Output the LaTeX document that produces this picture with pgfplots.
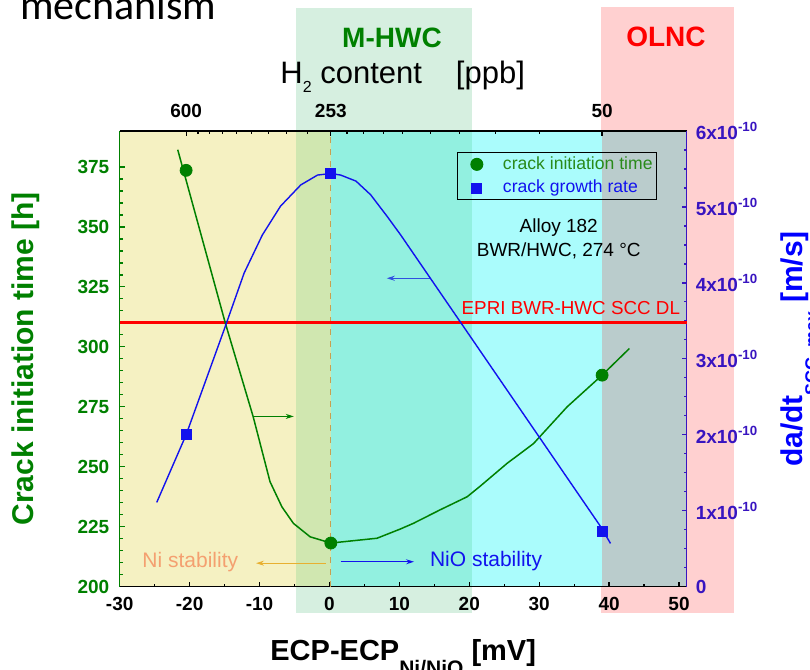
\documentclass[border=0pt]{standalone}
\usepackage{fontspec}
\setmainfont{Liberation Sans}
\newfontfamily\carlito{Carlito}
\usepackage{pgfplots}
\pgfplotsset{compat=1.18}
\usetikzlibrary{arrows.meta}
\pgfplotsset{set layers}

\definecolor{cgreen}{HTML}{008000}
\definecolor{cblue}{HTML}{1212EE}
\definecolor{cindigo}{HTML}{3814C0}
\definecolor{cred}{HTML}{FF0000}
\definecolor{byellow}{HTML}{F5F1C2}
\definecolor{boverlap}{HTML}{D0E7B0}
\definecolor{bteal}{HTML}{92F0E0}
\definecolor{bcyan}{HTML}{AAFCFC}
\definecolor{bgray}{HTML}{BACCCC}
\definecolor{bgreen}{HTML}{D6EFE0}
\definecolor{bpink}{HTML}{FFD0D0}
\definecolor{cdash}{HTML}{C8A050}
\definecolor{cnistab}{HTML}{F4A070}
\definecolor{cniarrow}{HTML}{E8B030}
\definecolor{carrowblue}{HTML}{3050E0}
\definecolor{clegtext}{HTML}{2A8A1A}

\begin{document}
\begin{tikzpicture}

\begin{axis}[
  at={(0,0)}, anchor=south west,
  scale only axis, width=283.5pt, height=227.85pt,
  xmin=-30, xmax=51.1, ymin=200, ymax=390,
  clip=false,
  axis x line*=bottom, axis y line*=left,
  axis line style={-, line width=0.8pt},
  x axis line style={black}, y axis line style={cgreen},
  tick align=inside,
  major tick length=2.5pt, minor tick length=1.5pt,
  xtick={-30,-20,-10,0,10,20,30,40,50},
  xticklabels={-30,-20,-10,0,10,20,30,40,50},
  minor x tick num=1,
  ytick={200,225,250,275,300,325,350,375},
  yticklabels={200,225,250,275,300,325,350,375},
  minor y tick num=4,
  xtick style={black, line width=0.6pt},
  ytick style={cgreen, line width=0.6pt},
  x tick label style={font=\bfseries\fontsize{9.5}{11}\selectfont, black, yshift=-1.85pt},
  y tick label style={font=\bfseries\fontsize{9.5}{11}\selectfont, cgreen, xshift=-1.7pt},
  xlabel={ECP-ECP\raisebox{-7.75pt}{\fontsize{10.5}{11}\selectfont Ni/NiO} [mV]},
  xlabel style={at={(axis description cs:0.5,0)}, anchor=base, yshift=-36.65pt, font=\bfseries\fontsize{14.5}{16}\selectfont},
  ylabel={Crack initiation time [h]},
  ylabel style={at={([xshift=-43.3pt]axis description cs:0,0.5)}, anchor=base, font=\bfseries\fontsize{15}{17}\selectfont, text=cgreen},
]
\begin{pgfonlayer}{axis background}
  \fill[bpink] (axis cs:38.8,189) rectangle (axis cs:57.9,441.8);
  \fill[bgreen] (axis cs:-4.8,189) rectangle (axis cs:20.4,441.3);
  \fill[byellow] (axis cs:-30,200) rectangle (axis cs:-4.8,390);
  \fill[boverlap] (axis cs:-4.8,200) rectangle (axis cs:0.2,390);
  \fill[bteal] (axis cs:0.2,200) rectangle (axis cs:20.4,390);
  \fill[bcyan] (axis cs:20.4,200) rectangle (axis cs:39.0,390);
  \fill[bgray] (axis cs:39.0,200) rectangle (axis cs:51.1,390);
\end{pgfonlayer}

\addplot[cdash, dashed, line width=0.6pt, no marks] coordinates {(0.2,200) (0.2,390)};
\addplot[cred, line width=1.5pt, no marks] coordinates {(-30,310) (51.1,310)};

\addplot[cgreen, line width=0.75pt, no marks] coordinates {
(-21.7,382.2) (-14.9,310) (-10.9,270.8) (-8.5,243.8) (-6.8,233.3) (-5.15,226.4)
(-2.76,220.8) (0.2,218.2) (6.8,220.2) (10.1,224.0) (12.0,226.4) (15.8,232)
(19.7,237.5) (21.6,242) (25.4,251.4) (29.2,259.7) (34.0,275) (39.0,288.2) (42.9,299.3)};
\addplot[only marks, mark=*, mark size=3pt, cgreen] coordinates {(-20.5,373.6) (0.2,218.2) (39.0,288.2)};

\draw[-{Stealth[length=4pt,width=2.5pt]}, cgreen, line width=0.5pt] (axis cs:-10.9,271) -- (axis cs:-5.1,271);
\draw[-{Stealth[length=4pt,width=2.5pt]}, carrowblue, line width=0.5pt] (axis cs:14.4,328.6) -- (axis cs:8.2,328.6);
\draw[-{Stealth[length=4pt,width=2.5pt]}, cniarrow, line width=0.5pt] (axis cs:-0.5,209.8) -- (axis cs:-10.5,209.8);
\draw[-{Stealth[length=4pt,width=2.5pt]}, cblue, line width=0.5pt] (axis cs:1.6,210.4) -- (axis cs:12.1,210.4);

\node[text=cnistab, font=\fontsize{10.5}{12}\selectfont] at (axis cs:-19.9,210.4) {Ni stability};
\node[text=cblue, font=\fontsize{10.5}{12}\selectfont] at (axis cs:22.4,210.7) {NiO stability};
\node[align=center, font=\fontsize{9.5}{12}\selectfont] at (axis cs:32.8,345) {Alloy 182\\BWR/HWC, 274 °C};
\node[anchor=base east, inner sep=0pt, text=cred, font=\fontsize{9.4}{11}\selectfont] at (axis cs:50.2,313.3) {EPRI BWR-HWC SCC DL};
\end{axis}

\begin{axis}[
  at={(0,0)}, anchor=south west,
  scale only axis, width=283.5pt, height=227.85pt,
  xmin=-30, xmax=51.1, ymin=0, ymax=6e-10,
  axis x line*=top, axis y line*=right,
  axis line style={-, line width=0.8pt},
  x axis line style={black}, y axis line style={cindigo},
  tick align=inside,
  major tick length=2.5pt, minor tick length=1.5pt,
  xtick={-20.5,0.2,39.0}, xticklabels={600,253,50},
  minor xtick={-18.8,-17.1,-15.3,-13.3,-11.1,-8.7,-6.1,-3.1,2.5,4.9,7.7,10.4,14.4,18.6,23.7,30.1},
  ytick={0,1e-10,2e-10,3e-10,4e-10,5e-10,6e-10},
  yticklabels={0,1x10\textsuperscript{-10},2x10\textsuperscript{-10},3x10\textsuperscript{-10},4x10\textsuperscript{-10},5x10\textsuperscript{-10},6x10\textsuperscript{-10}},
  minor y tick num=3,
  scaled y ticks=false,
  xtick style={black, line width=0.6pt},
  ytick style={cindigo, line width=0.6pt},
  x tick label style={font=\bfseries\fontsize{9.5}{11}\selectfont, black, yshift=3.2pt},
  y tick label style={font=\bfseries\fontsize{9.5}{11}\selectfont, cindigo, xshift=1pt},
  ylabel={da/dt\raisebox{-7.4pt}{\fontsize{9}{10}\selectfont SCC, max} [m/s]},
  ylabel style={at={([xshift=58.15pt]axis description cs:1,0.5216)}, anchor=base, font=\bfseries\fontsize{15}{17}\selectfont, text=blue},
  legend style={at={(0.595,0.954)}, anchor=north west, draw=black, line width=0.5pt, fill=none,
    font=\fontsize{8.8}{10}\selectfont, inner sep=0pt, nodes={inner xsep=2pt, inner ysep=2pt}},
  legend image code/.code={\path (-0.33cm,0cm) (0.38cm,0cm); \draw[#1] plot coordinates {(0cm,0cm)};},
  legend cell align=left,
]
\addlegendimage{only marks, mark=*, mark size=3pt, cgreen}
\addlegendentry{\textcolor{clegtext}{crack initiation time}}
\addplot[cblue, line width=0.7pt, no marks, forget plot] coordinates {
(-24.7,1.11e-10) (-20.5,2.00e-10) (-15.0,3.40e-10) (-12.2,4.13e-10) (-9.6,4.63e-10)
(-7.0,5.01e-10) (-4.1,5.29e-10) (-1.7,5.42e-10) (0.2,5.44e-10) (1.6,5.42e-10)
(3.8,5.34e-10) (5.9,5.16e-10) (8.3,4.87e-10) (10.2,4.63e-10) (38.8,0.79e-10) (40.2,0.57e-10)};
\addplot[only marks, mark=square*, mark size=2.5pt, cblue] coordinates {(-20.5,2.00e-10) (0.2,5.44e-10) (39.0,0.73e-10)};
\addlegendentry{\textcolor{cblue}{crack growth rate}}
\end{axis}

\node[anchor=base west, inner sep=0pt, font=\carlito\fontsize{21}{24}\selectfont] at (-49.85pt,283.35pt) {mechanism};
\node[font=\bfseries\fontsize{14}{16}\selectfont, text=cgreen] at (136.15pt,274.35pt) {M-HWC};
\node[font=\bfseries\fontsize{14}{16}\selectfont, text=cred] at (273.15pt,274.85pt) {OLNC};
\node[anchor=base west, inner sep=0pt, font=\fontsize{15.5}{17}\selectfont] at (80.15pt,251.7pt) {H\raisebox{-4.85pt}{\fontsize{8}{9}\selectfont 2} content\hspace{17pt}[ppb]};

\pgfresetboundingbox
\path[use as bounding box] (-59.85pt,-41.65pt) rectangle (345.15pt,293.35pt);
\end{tikzpicture}
\end{document}
